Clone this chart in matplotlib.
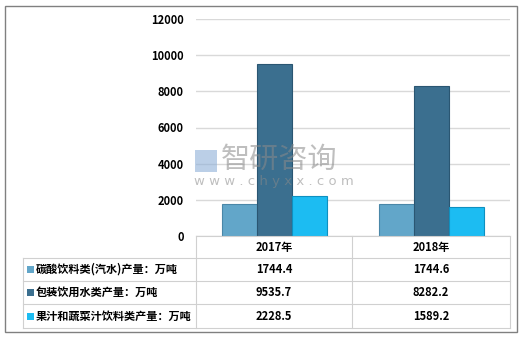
import matplotlib
matplotlib.use("Agg")
import matplotlib.pyplot as plt
from matplotlib.patches import Rectangle
from matplotlib.lines import Line2D
import numpy as np

plt.rcParams['font.family'] = ['Noto Sans CJK SC', 'DejaVu Sans']

years = ['2017年', '2018年']
series_names = ['碳酸饮料类(汽水)产量：万吨', '包装饮用水类产量：万吨', '果汁和蔬菜汁饮料类产量：万吨']
carbonated = [1744.4, 1744.6]
water = [9535.7, 8282.2]
juice = [2228.5, 1589.2]
yticks = [0, 2000, 4000, 6000, 8000, 10000, 12000]

series = [carbonated, water, juice]
colors = ['#62a6c9', '#3b6f8f', '#1cbcf2']
edges = ['#4a87a8', '#2a5672', '#0e90c0']

W, H = 526, 337
fig = plt.figure(figsize=(W / 100, H / 100), dpi=100)

def fx(px):
    return px / W

def fy(py):
    return 1 - py / H

ax_l, ax_r, ax_t, ax_b = 196, 510, 19, 236
ax = fig.add_axes([fx(ax_l), fy(ax_b), fx(ax_r) - fx(ax_l), fy(ax_t) - fy(ax_b)])
x = np.arange(len(years))
bw = 0.225
for i, (vals, c, e) in enumerate(zip(series, colors, edges)):
    ax.bar(x + (i - 1) * bw, vals, width=bw, color=c, edgecolor=e, linewidth=0.8, zorder=3)
ax.set_xlim(-0.5, len(years) - 0.5)
ax.set_ylim(0, 12000)
ax.set_yticks(yticks)
ax.set_yticklabels([str(t) for t in yticks], fontsize=8, fontweight='bold')
ax.tick_params(axis='y', length=0, pad=9)
ax.set_xticks([])
ax.grid(axis='y', color='#d9d9d9', linewidth=1, zorder=0)
for s in ax.spines.values():
    s.set_visible(False)

# Watermark
fig.text(fx(221), fy(160), '智研咨询', fontsize=21, color='#8a8a8a', alpha=0.55, va='center', ha='left')
fig.text(fx(194), fy(182), 'w w w . c h y x x . c o m', fontsize=9.5, color='#8a8a8a', alpha=0.55,
         va='center', ha='left', family='DejaVu Sans')
fig.patches.append(Rectangle((fx(195), fy(172)), fx(22), fy(150) - fy(172), transform=fig.transFigure,
                             facecolor='#8fb0d8', alpha=0.6, edgecolor='none'))

# Table
line_c = '#d0d0d0'
def hline(y, x0, x1, c=line_c, lw=0.8):
    fig.add_artist(Line2D([fx(x0), fx(x1)], [fy(y), fy(y)], color=c, lw=lw))

def vline(xp, y0, y1, c=line_c, lw=0.8):
    fig.add_artist(Line2D([fx(xp), fx(xp)], [fy(y0), fy(y1)], color=c, lw=lw))

rows_y = [236, 258, 281, 304, 328]
hline(236, 196, 510)
for y in rows_y[1:]:
    hline(y, 23, 510)
vline(23, 258, 328)
vline(196, 236, 328)
vline(352, 236, 328)
vline(510, 236, 328)

col_centers = [274, 431]
for yr, cx in zip(years, col_centers):
    fig.text(fx(cx), fy(247), yr, fontsize=8, fontweight='bold', ha='center', va='center')
for r, (name, vals, c) in enumerate(zip(series_names, series, colors)):
    yc = (rows_y[r + 1] + rows_y[r + 2]) / 2
    fig.patches.append(Rectangle((fx(27), fy(yc + 3.5)), fx(7), fy(yc - 3.5) - fy(yc + 3.5),
                                 transform=fig.transFigure, facecolor=c, edgecolor='none'))
    fig.text(fx(36), fy(yc), name, fontsize=8, fontweight='bold', ha='left', va='center')
    for v, cx in zip(vals, col_centers):
        fig.text(fx(cx), fy(yc), f'{v:.1f}', fontsize=8, fontweight='bold', ha='center', va='center')

# Outer border
fig.patches.append(Rectangle((fx(5), fy(332)), fx(517) - fx(5), fy(6) - fy(332), transform=fig.transFigure,
                             facecolor='none', edgecolor='#808080', lw=1))

fig.savefig('out.png', dpi=100)
